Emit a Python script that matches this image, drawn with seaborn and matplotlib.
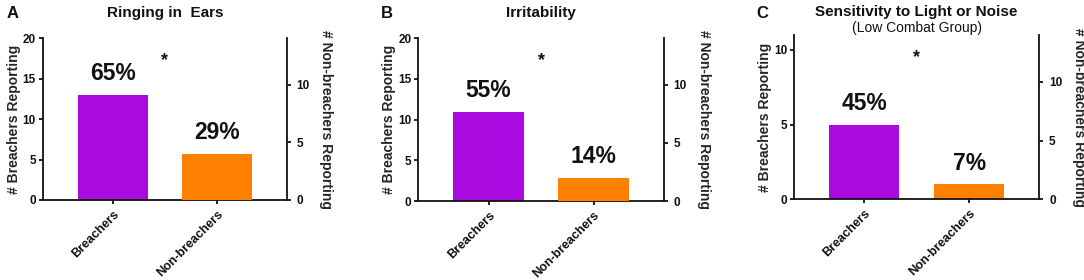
import matplotlib
matplotlib.use("Agg")
import matplotlib.pyplot as plt
import seaborn as sns
import pandas as pd

# ---------------- data ----------------
categories = ["Breachers", "Non-breachers"]
panel_letters = ["A", "B", "C"]
titles = ["Ringing in  Ears", "Irritability", "Sensitivity to Light or Noise"]
subtitles = ["", "", "(Low Combat Group)"]
breachers_counts = [13, 11, 5]
nonbreachers_counts = [4, 2, 1]
nonbreachers_on_right = [True, True, False]
percent_breachers = ["65%", "55%", "45%"]
percent_nonbreachers = ["29%", "14%", "7%"]
left_ymax = [20, 20, 11]
left_yticks = [[0, 5, 10, 15, 20], [0, 5, 10, 15, 20], [0, 5, 10]]
right_ymax = [14, 14, 14]
right_yticks = [0, 5, 10]
significance = ["*", "*", "*"]

# ---------------- style ----------------
sns.set_theme(style="ticks")
plt.rcParams["font.family"] = ["Liberation Sans", "DejaVu Sans"]
plt.rcParams["font.weight"] = "bold"
plt.rcParams["axes.labelweight"] = "bold"

PURPLE = "#A90ADF"
ORANGE = "#FF8000"
LW = 1.3

fig = plt.figure(figsize=(10.84, 2.8), dpi=100)
W, H = 1084, 280
# axes rectangles in pixels: left, right, top, bottom
rects_px = [(42.7, 287.0, 38.3, 200.0),
            (418.3, 664.0, 38.3, 201.0),
            (794.0, 1039.3, 35.0, 199.3)]
letter_x_px = [7, 381, 756]

for i in range(3):
    l, r, t, b = rects_px[i]
    ax = fig.add_axes([l / W, (H - b) / H, (r - l) / W, (b - t) / H])
    ax2 = ax.twinx()

    df_b = pd.DataFrame({"group": [categories[0]], "count": [breachers_counts[i]]})
    df_n = pd.DataFrame({"group": [categories[1]], "count": [nonbreachers_counts[i]]})

    sns.barplot(data=df_b, x="group", y="count", order=categories, ax=ax,
                color=PURPLE, saturation=1, width=0.67, linewidth=0)
    nb_ax = ax2 if nonbreachers_on_right[i] else ax
    sns.barplot(data=df_n, x="group", y="count", order=categories, ax=nb_ax,
                color=ORANGE, saturation=1, width=0.67, linewidth=0)

    ax.set_xlim(-0.67, 1.67)
    ax.set_ylim(0, left_ymax[i])
    ax.set_yticks(left_yticks[i])
    ax2.set_ylim(0, right_ymax[i])
    ax2.set_yticks(right_yticks)

    ax.set_xlabel("")
    ax2.set_xlabel("")
    ax.set_ylabel("# Breachers Reporting", fontsize=10, fontweight="bold")
    ax.yaxis.set_label_coords(-0.09, 0.5)
    ax2.set_ylabel("# Non-breachers Reporting", fontsize=10, fontweight="bold",
                   rotation=270, va="bottom")
    ax2.yaxis.set_label_coords(1.133, 0.5)

    ax.set_xticks([0, 1])
    ax.set_xticklabels(categories, rotation=45, ha="right", rotation_mode="anchor",
                       fontsize=9, fontweight="bold")

    for a in (ax, ax2):
        a.spines["top"].set_visible(False)
        for s in a.spines.values():
            s.set_linewidth(LW)
            s.set_color("#111111")
        a.tick_params(width=LW, length=3, pad=2, labelsize=8.5, colors="#111111")
    ax2.tick_params(axis="y", pad=4)
    ax.spines["right"].set_visible(False)
    ax2.spines["left"].set_visible(False)
    ax2.spines["bottom"].set_visible(False)
    for lab in ax.get_yticklabels() + ax2.get_yticklabels():
        lab.set_fontweight("bold")
    ax.tick_params(axis="x", pad=3, labelsize=9)

    # percent labels
    ax.annotate(percent_breachers[i], xy=(0, breachers_counts[i]), xytext=(0, 7),
                textcoords="offset points", ha="center", va="bottom",
                fontsize=16.5, fontweight="bold", color="#111111")
    nb_ax.annotate(percent_nonbreachers[i], xy=(1, nonbreachers_counts[i]), xytext=(0, 7),
                   textcoords="offset points", ha="center", va="bottom",
                   fontsize=16.5, fontweight="bold", color="#111111")

    # significance star
    ax.text(0.5, 0.835, significance[i], transform=ax.transAxes, ha="center",
            va="baseline", fontsize=13, fontweight="bold", color="#111111")

    # titles
    if subtitles[i]:
        ax.annotate(titles[i], xy=(0.5, 1), xycoords="axes fraction", xytext=(0, 14),
                    textcoords="offset points", ha="center", va="baseline",
                    fontsize=11, fontweight="bold", color="#111111")
        ax.annotate(subtitles[i], xy=(0.5, 1), xycoords="axes fraction", xytext=(0, 2),
                    textcoords="offset points", ha="center", va="baseline",
                    fontsize=10, fontweight="normal", color="#111111")
    else:
        ax.annotate(titles[i], xy=(0.5, 1), xycoords="axes fraction", xytext=(0, 15.5),
                    textcoords="offset points", ha="center", va="baseline",
                    fontsize=11, fontweight="bold", color="#111111")

    fig.text(letter_x_px[i] / W, 1 - 18 / H, panel_letters[i], ha="left", va="baseline",
             fontsize=12, fontweight="bold", color="#111111")

fig.savefig("out.png", dpi=100, facecolor="white")
